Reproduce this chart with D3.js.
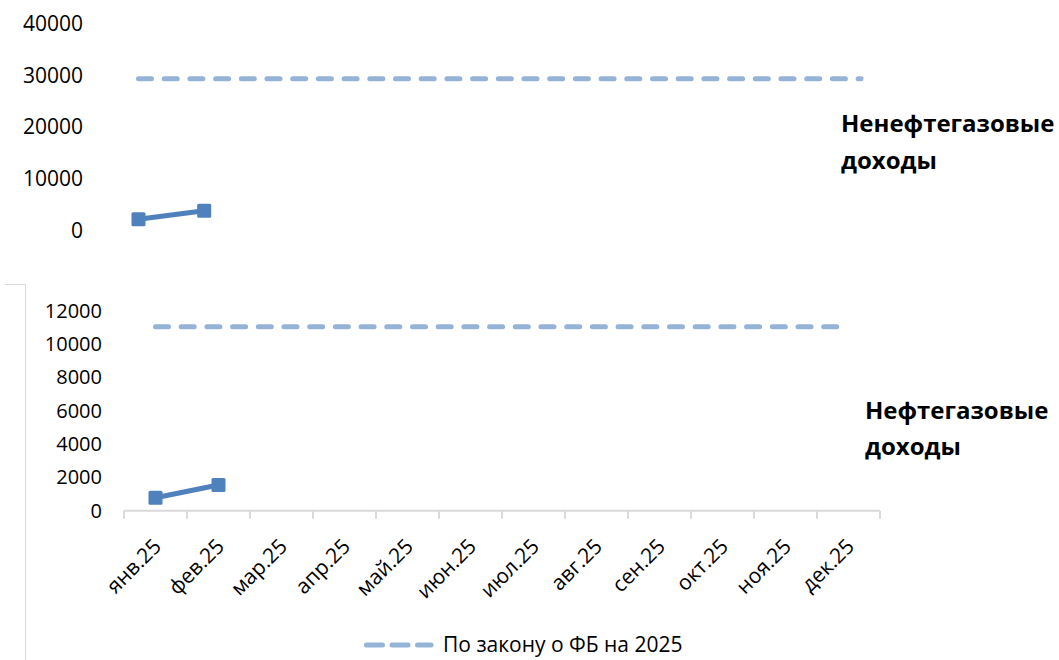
<!DOCTYPE html>
<html><head><meta charset="utf-8">
<script src="https://cdn.jsdelivr.net/npm/d3@7"></script>
<style>
html,body{margin:0;padding:0;background:#fff;}
svg{display:block;}
text{font-family:"Open Sans","Liberation Sans",sans-serif;fill:#000;}
</style></head>
<body>
<svg id="c" width="1059" height="660"></svg>
<script>
const months = ["янв.25","фев.25","мар.25","апр.25","май.25","июн.25","июл.25","авг.25","сен.25","окт.25","ноя.25","дек.25"];
const nonOilActual = [2170, 3840];
const nonOilPlan = [29400,29400,29400,29400,29400,29400,29400,29400,29400,29400,29400,29400];
const oilActual = [780, 1545];
const oilPlan = [11050,11050,11050,11050,11050,11050,11050,11050,11050,11050,11050,11050];
const topTicks = [0,10000,20000,30000,40000];
const bottomTicks = [0,2000,4000,6000,8000,10000,12000];
const legendLabel = "По закону о ФБ на 2025";
const topTitle = ["Ненефтегазовые","доходы"];
const bottomTitle = ["Нефтегазовые","доходы"];

const svg = d3.select("#c");
const actualColor = "#4F81BD", planColor = "#95B3D7", gridColor = "#D9D9D9";
const dash = "13,12.7";

// frame line of lower chart
svg.append("path").attr("d","M5,284.5H25.5V660").attr("fill","none").attr("stroke",gridColor).attr("stroke-width",1);

// ---------- TOP CHART ----------
const xT = d3.scalePoint().domain(months).range([138.5, 861]);
const yT = d3.scaleLinear().domain([0,40000]).range([230.5, 24]);

const gyT = svg.append("g").attr("transform","translate(83,0)")
  .call(d3.axisLeft(yT).tickValues(topTicks).tickSize(0).tickPadding(0).tickFormat(d3.format("d")));
gyT.select(".domain").remove();
gyT.selectAll("text").attr("font-size","21px").attr("font-family","Open Sans").attr("fill","#000");

const lineT = d3.line().x((d,i)=>xT(months[i])).y(d=>yT(d));
svg.append("path").datum(nonOilPlan).attr("d",lineT).attr("fill","none")
  .attr("stroke",planColor).attr("stroke-width",5).attr("stroke-linecap","round").attr("stroke-dasharray",dash);
svg.append("path").datum(nonOilActual).attr("d",lineT).attr("fill","none")
  .attr("stroke",actualColor).attr("stroke-width",5);
svg.selectAll(".mT").data(nonOilActual).enter().append("rect")
  .attr("x",(d,i)=>xT(months[i])-7).attr("y",d=>yT(d)-7).attr("width",14).attr("height",14)
  .attr("rx",1.5).attr("fill",actualColor);

const tt = svg.append("text").attr("x",841).attr("y",132).attr("font-size","24px").attr("font-weight","bold");
tt.selectAll("tspan").data(topTitle).enter().append("tspan").attr("x",841).attr("dy",(d,i)=>i?36.5:0).text(d=>d);

// ---------- BOTTOM CHART ----------
const xB = d3.scaleBand().domain(months).range([124, 880]).padding(0);
const yB = d3.scaleLinear().domain([0,12000]).range([510.7, 311]);
const cx = m => xB(m) + xB.bandwidth()/2;

const gyB = svg.append("g").attr("transform","translate(102,0)")
  .call(d3.axisLeft(yB).tickValues(bottomTicks).tickSize(0).tickPadding(0).tickFormat(d3.format("d")));
gyB.select(".domain").remove();
gyB.selectAll("text").attr("font-size","20px").attr("font-family","Open Sans").attr("fill","#000");

// x axis
const axisY = yB(0);
svg.append("line").attr("x1",xB.range()[0]).attr("x2",xB.range()[1]).attr("y1",axisY).attr("y2",axisY)
  .attr("stroke",gridColor).attr("stroke-width",2);
const edges = months.map(m=>xB(m)).concat([xB.range()[1]]);
svg.selectAll(".tk").data(edges).enter().append("line")
  .attr("x1",d=>d).attr("x2",d=>d).attr("y1",axisY).attr("y2",axisY+8)
  .attr("stroke",gridColor).attr("stroke-width",2);
svg.selectAll(".xl").data(months).enter().append("text")
  .attr("transform",d=>`translate(${cx(d)+7},${axisY+37}) rotate(-45)`)
  .attr("text-anchor","end").attr("font-size","21px").text(d=>d);

const lineB = d3.line().x((d,i)=>cx(months[i])).y(d=>yB(d));
svg.append("path").datum(oilPlan).attr("d",lineB).attr("fill","none")
  .attr("stroke",planColor).attr("stroke-width",5).attr("stroke-linecap","round").attr("stroke-dasharray",dash);
svg.append("path").datum(oilActual).attr("d",lineB).attr("fill","none")
  .attr("stroke",actualColor).attr("stroke-width",5);
svg.selectAll(".mB").data(oilActual).enter().append("rect")
  .attr("x",(d,i)=>cx(months[i])-7).attr("y",d=>yB(d)-7).attr("width",14).attr("height",14)
  .attr("rx",1.5).attr("fill",actualColor);

const tb = svg.append("text").attr("x",865).attr("y",418.5).attr("font-size","24px").attr("font-weight","bold");
tb.selectAll("tspan").data(bottomTitle).enter().append("tspan").attr("x",865).attr("dy",(d,i)=>i?36.5:0).text(d=>d);

// legend
svg.append("line").attr("x1",366.5).attr("x2",431).attr("y1",645).attr("y2",645)
  .attr("stroke",planColor).attr("stroke-width",5).attr("stroke-linecap","round").attr("stroke-dasharray","16,9.5");
svg.append("text").attr("x",443).attr("y",652).attr("font-size","21px").text(legendLabel);
</script>
</body></html>
